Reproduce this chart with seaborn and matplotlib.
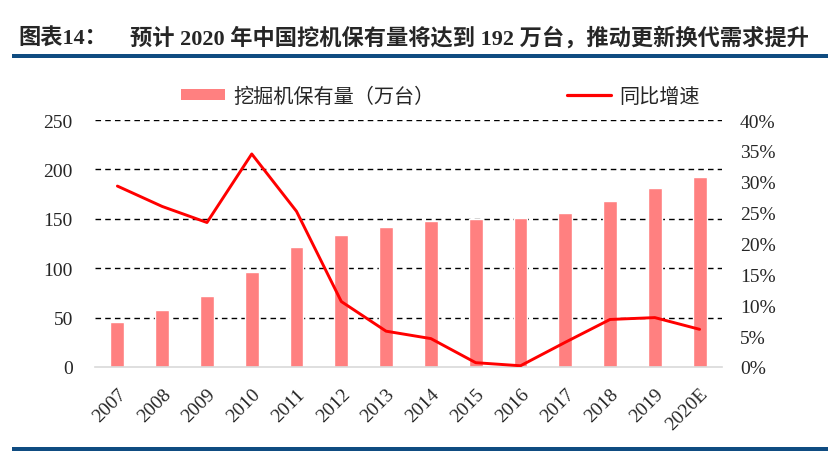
import numpy as np
import pandas as pd
import matplotlib
matplotlib.use("Agg")
import matplotlib.pyplot as plt
from matplotlib.patches import Patch, Rectangle
from matplotlib.lines import Line2D
import seaborn as sns

# data
years = ["2007", "2008", "2009", "2010", "2011", "2012", "2013",
         "2014", "2015", "2016", "2017", "2018", "2019", "2020E"]
holdings = [46, 58, 72, 96.5, 121.5, 134, 142, 148, 150, 150.5, 155.5, 168, 181, 192]
growth = [29.3, 26.0, 23.4, 34.5, 25.2, 10.6, 5.8, 4.6, 0.7, 0.2, 4.0, 7.7, 8.0, 6.1]
left_ticks = [0, 50, 100, 150, 200, 250]
right_ticks = [0, 5, 10, 15, 20, 25, 30, 35, 40]

bar_label = "挖掘机保有量（万台）"
line_label = "同比增速"
title_head = "图表14："
title_body = "预计 2020 年中国挖机保有量将达到 192 万台，推动更新换代需求提升"

BAR_COLOR = "#FF8080"
LINE_COLOR = "#FF0000"
BLUE = "#0F4C81"
FONTS = ["Liberation Serif", "Noto Sans CJK SC", "DejaVu Sans"]

sns.set_style("white")
plt.rcParams["font.family"] = FONTS

df = pd.DataFrame({"year": years, "holdings": holdings, "growth": growth})
df["pos"] = np.arange(len(df))

fig = plt.figure(figsize=(8.29, 4.52), dpi=100)
ax = fig.add_axes([95 / 829, 1 - 368 / 452, (722 - 95) / 829, (368 - 121) / 452])

sns.barplot(data=df, x="year", y="holdings", color=BAR_COLOR, saturation=1,
            width=0.31, ax=ax)
ax.set_ylim(0, 250)
ax.set_xlim(-0.5, len(years) - 0.5)
ax.set_yticks(left_ticks)
for v in left_ticks[1:]:
    ax.axhline(v, color="black", linestyle=(0, (4, 3)), linewidth=1.0, zorder=0)

ax2 = ax.twinx()
sns.lineplot(data=df, x="pos", y="growth", color=LINE_COLOR, linewidth=2.1, ax=ax2)
ax2.set_ylim(0, 40)
ax2.set_yticks(right_ticks)
ax2.set_yticklabels([f"{t}%" for t in right_ticks])

for a in (ax, ax2):
    for s in ("top", "left", "right"):
        a.spines[s].set_visible(False)
    a.set_xlabel("")
    a.set_ylabel("")
ax2.spines["bottom"].set_visible(False)
ax.spines["bottom"].set_color("#D9D9D9")
ax.spines["bottom"].set_linewidth(1.2)

ax.set_xticks(df["pos"])
ax.set_xticklabels(years, rotation=45, ha="right", rotation_mode="anchor")
ax.set_xticks(np.arange(-0.5, len(years), 1), minor=True)
ax.tick_params(axis="x", which="major", length=0, pad=13, labelsize=14)
ax.tick_params(axis="x", which="minor", length=5, color="#D9D9D9", width=1.2)
ax.tick_params(axis="y", length=0, pad=16, labelsize=14)
ax2.tick_params(axis="y", length=0, pad=13, labelsize=14)

handles = [Patch(facecolor=BAR_COLOR, edgecolor="none"),
           Line2D([0], [0], color=LINE_COLOR, linewidth=2.3)]
fig.legend(handles, [bar_label, line_label], ncol=2, frameon=False,
           loc="center", bbox_to_anchor=(0.531, 1 - 98 / 452),
           fontsize=14.5, handlelength=2.2, handleheight=0.5,
           handletextpad=0.4, columnspacing=6.6)

fig.text(18 / 829, 1 - 38 / 452, title_head, fontsize=16, fontweight="bold",
         va="center", ha="left")
fig.text(130 / 829, 1 - 38 / 452, title_body, fontsize=16, fontweight="bold",
         va="center", ha="left")

fig.add_artist(Rectangle((12 / 829, 1 - 59 / 452), 1, 4 / 452,
                         transform=fig.transFigure, color=BLUE, lw=0))
fig.add_artist(Rectangle((12 / 829, 0), 1, 4 / 452,
                         transform=fig.transFigure, color=BLUE, lw=0))

fig.savefig("out.png", dpi=100)
